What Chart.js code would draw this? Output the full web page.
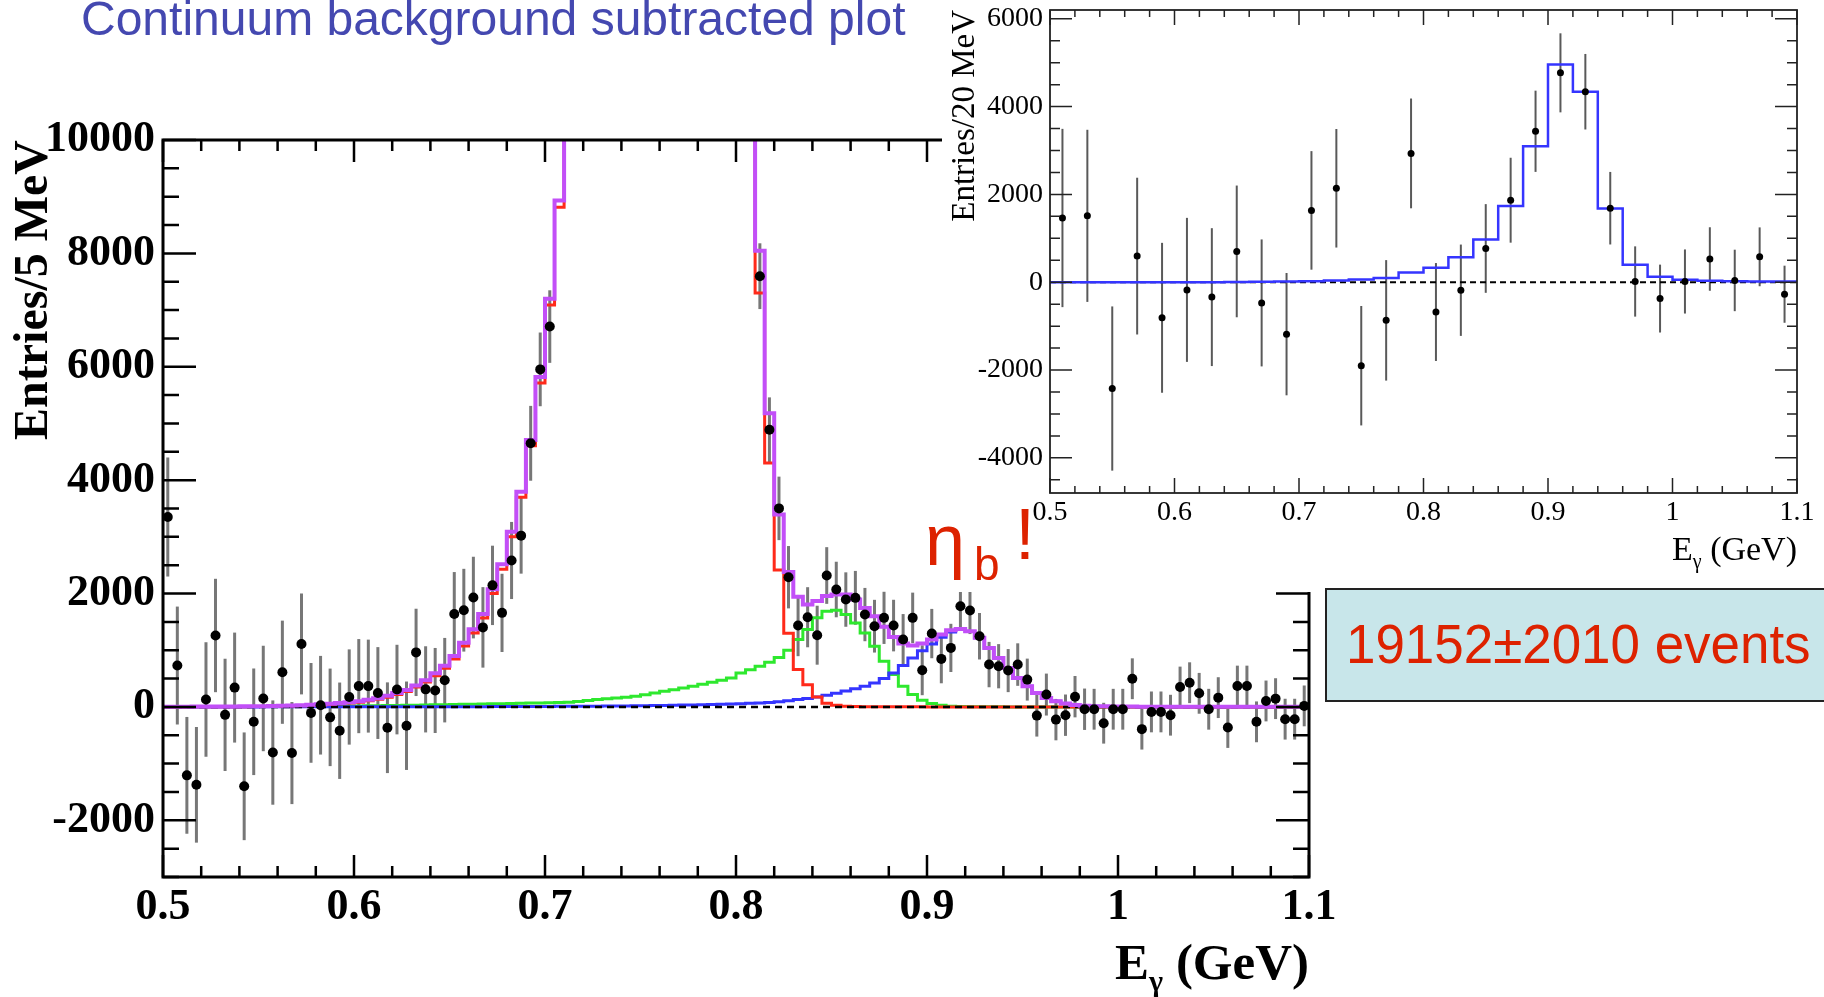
<!DOCTYPE html>
<html>
<head>
<meta charset="utf-8">
<script src="https://cdn.jsdelivr.net/npm/chart.js"></script>
<style>
  html, body { margin: 0; padding: 0; background: #fff; }
  body { width: 1824px; height: 997px; position: relative; overflow: hidden; }
  #mainWrap { position: absolute; left: 0; top: 0; width: 1360px; height: 997px; z-index: 1; }
  #insetWrap { position: absolute; left: 942px; top: 0; width: 882px; height: 592px; background: #fff; z-index: 2; }
  .txt { position: absolute; white-space: nowrap; line-height: 1; z-index: 3; }
  .serif { font-family: 'Liberation Serif', 'Times New Roman', serif; color: #000; }
  .red { font-family: 'Liberation Sans', Arial, sans-serif; color: #dd2200; }
  #evbox { position: absolute; left: 1325px; top: 588px; width: 560px; height: 110px; background: #c8e6ea; border: 2px solid #222; z-index: 3; }
</style>
</head>
<body>
<div id="mainWrap"><canvas id="mainChart" width="1360" height="997"></canvas></div>
<div id="insetWrap"><canvas id="insetChart" width="882" height="592"></canvas></div>

<div class="txt" style="left:81px; top:-5px; font-family:'Liberation Sans', Arial, sans-serif; font-size:48px; color:#4448b0;">Continuum background subtracted plot</div>

<div class="txt serif" style="right:515px; top:937px; font-size:51px; font-weight:bold;">E<span style="font-size:30px; position:relative; top:12px;">γ</span> (GeV)</div>
<div class="txt serif" style="right:27px; top:532px; font-size:34px;">E<span style="font-size:20px; position:relative; top:8px;">γ</span> (GeV)</div>

<div class="txt red" style="left:925px; top:504px; font-size:72px;">η</div>
<div class="txt red" style="left:974px; top:541px; font-size:46px;">b</div>
<div class="txt red" style="left:1015px; top:498px; font-size:72px;">!</div>

<div id="evbox"><div class="txt red" style="left:19px; top:26px; font-size:56px; transform:scaleX(0.945); transform-origin:0 0;">19152±2010 events</div></div>

<script>
// main plot: 5 MeV bins from 0.5 GeV
const MAIN_X0 = 0.5;
const MAIN_BIN = 0.005;
// fit histogram above the frame (peak region, not readable)
const OFF = 12000;

const MAIN_DATA = [
    3350, 730, -1207, -1374, 131, 1260, -140, 341, -1400, -262,
    149, -805, 612, -814, 1111, -105, 30, -184, -420, 175,
    367, 367, 245, -367, 306, -332, 962, 310, 290, 472,
    1639, 1706, 1929, 1403, 2144, 1659, 2583, 3021, 4650, 5954,
    6709, null, null, null, null, null, null, null, null, null,
    null, null, null, null, null, null, null, null, null, null,
    null, null, 7598, 4890, 3502, 2288, 1435, 1582, 1265, 2318,
    2071, 1894, 1924, 1629, 1424, 1571, 1435, 1188, 1571, 647,
    1294, 847, 1041, 1776, 1700, 1247, 747, 718, 641, 747,
    482, -153, 218, -224, -146, 181, -41, -41, -287, -41,
    -41, 497, -392, -88, -88, -146, 351, 427, 240, -41,
    164, -363, 368, 368, -263, 105, 146, -216, -216, 18
];

const MAIN_ERR = [
    1050, 1040, 1030, 1020, 1010, 1000, 990, 970, 950, 940,
    930, 920, 910, 900, 890, 880, 870, 860, 850, 840,
    830, 820, 810, 800, 790, 780, 770, 760, 750, 745,
    740, 730, 720, 710, 700, 690, 680, 670, 660, 650,
    640, null, null, null, null, null, null, null, null, null,
    null, null, null, null, null, null, null, null, null, null,
    null, null, 580, 570, 560, 550, 540, 530, 520, 500,
    490, 480, 475, 470, 465, 460, 455, 450, 445, 440,
    435, 430, 425, 420, 415, 410, 400, 390, 380, 375,
    370, 370, 370, 365, 365, 365, 365, 360, 360, 360,
    360, 360, 360, 360, 360, 360, 360, 360, 360, 360,
    360, 360, 360, 360, 360, 360, 360, 360, 360, 360
];

const MAIN_TOTAL = [
    5, 5, 5, 6, 6, 7, 8, 9, 10, 12,
    14, 17, 20, 25, 30, 37, 45, 55, 67, 82,
    100, 125, 155, 195, 245, 300, 380, 472, 593, 728,
    897, 1133, 1369, 1639, 2077, 2515, 3088, 3796, 4707, 5819,
    7202, 8935, OFF, OFF, OFF, OFF, OFF, OFF, OFF, OFF,
    OFF, OFF, OFF, OFF, OFF, OFF, OFF, OFF, OFF, OFF,
    OFF, OFF, 8045, 5179, 3392, 2380, 1942, 1807, 1869, 1956,
    1982, 1982, 1894, 1747, 1600, 1412, 1235, 1118, 1082, 1118,
    1188, 1276, 1353, 1376, 1335, 1218, 1041, 865, 688, 512,
    365, 247, 159, 100, 60, 35, 22, 14, 10, 8,
    6, 6, 5, 5, 5, 5, 4, 4, 4, 4,
    4, 3, 3, 3, 3, 3, 3, 3, 3, 3
];

const MAIN_PEAK = [
    0, 0, 0, 1, 1, 2, 3, 4, 5, 7,
    9, 11, 14, 18, 22, 28, 34, 43, 54, 68,
    84, 107, 135, 172, 220, 272, 350, 438, 550, 680,
    845, 1075, 1305, 1570, 2000, 2430, 3000, 3700, 4605, 5715,
    7090, 8815, OFF, OFF, OFF, OFF, OFF, OFF, OFF, OFF,
    OFF, OFF, OFF, OFF, OFF, OFF, OFF, OFF, OFF, OFF,
    OFF, OFF, 7303, 4302, 2414, 1301, 661, 391, 175, 65,
    29, 12, 6, 4, 3, 2, 2, 1, 1, 1,
    0, 0, 0, 0, 0, 0, 0, 0, 0, 0,
    0, 0, 0, 0, 0, 0, 0, 0, 0, 0,
    0, 0, 0, 0, 0, 0, 0, 0, 0, 0,
    0, 0, 0, 0, 0, 0, 0, 0, 0, 0
];

const MAIN_CHIB = [
    6, 6, 6, 6, 6, 6, 7, 7, 7, 8,
    9, 10, 10, 11, 12, 13, 14, 15, 16, 17,
    18, 20, 22, 24, 26, 28, 31, 34, 37, 40,
    43, 46, 49, 52, 55, 58, 61, 64, 67, 70,
    74, 78, 82, 96, 112, 129, 142, 157, 172, 188,
    215, 245, 276, 305, 334, 364, 398, 434, 472, 511,
    599, 655, 716, 790, 870, 1000, 1188, 1365, 1571, 1688,
    1706, 1629, 1482, 1306, 1071, 806, 571, 365, 218, 118,
    59, 29, 14, 6, 3, 2, 1, 1, 0, 0,
    0, 0, 0, 0, 0, 0, 0, 0, 0, 0,
    0, 0, 0, 0, 0, 0, 0, 0, 0, 0,
    0, 0, 0, 0, 0, 0, 0, 0, 0, 0
];

const MAIN_ETAB = [
    0, 0, 0, 0, 0, 0, 0, 0, 0, 0,
    1, 1, 1, 1, 1, 1, 1, 1, 1, 1,
    2, 2, 2, 2, 3, 3, 3, 3, 4, 4,
    4, 5, 5, 5, 6, 6, 7, 7, 8, 8,
    9, 10, 11, 12, 13, 14, 15, 16, 18, 20,
    22, 24, 27, 30, 33, 36, 40, 44, 48, 53,
    58, 64, 70, 78, 90, 110, 130, 150, 175, 205,
    240, 280, 320, 365, 420, 500, 600, 730, 865, 990,
    1110, 1230, 1320, 1370, 1330, 1218, 1041, 865, 688, 512,
    365, 247, 159, 100, 60, 35, 20, 12, 8, 5,
    4, 4, 3, 3, 3, 2, 2, 2, 2, 2,
    1, 1, 1, 1, 1, 1, 1, 1, 1, 1
];

const X_TICKS = [0.5, 0.6, 0.7, 0.8, 0.9, 1, 1.1];
const Y_MAIN_TICKS = [-2000, 0, 2000, 4000, 6000, 8000, 10000];

// inset: 20 MeV bins from 0.5 GeV
const INSET_X0 = 0.5;
const INSET_BIN = 0.02;
const INSET_DATA = [1463, 1512, -2421, 595, -810, -174, -339, 702, -471, -1182,
    1636, 2140, -1901, -868, 2934, -678, -182, 769, 1868, 3438,
    4769, 4339, 1686, 17, -372, 17, 529, 41, 579, -273];
const INSET_ERR = [2030, 1960, 1870, 1785, 1707, 1640, 1570, 1500, 1446, 1393,
    1350, 1350, 1360, 1372, 1250, 1115, 1040, 1010, 967, 925,
    900, 860, 826, 800, 773, 730, 723, 700, 670, 650];
const INSET_FIT = [0, 0, 0, 0, 0, 0, 0, 8, 10, 15,
    25, 40, 62, 99, 223, 331, 570, 975, 1736, 3099,
    4959, 4339, 1678, 397, 124, 58, 33, 25, 17, 17];
const Y_INSET_TICKS = [-4000, -2000, 0, 2000, 4000, 6000];

function edges(values, x0, w) {
    const pts = values.map((v, i) => ({ x: x0 + i * w, y: v }));
    pts.push({ x: x0 + values.length * w, y: values[values.length - 1] });
    return pts;
}

function centres(values, x0, w) {
    return values.map((v, i) => ({ x: x0 + (i + 0.5) * w, y: v }));
}

function hist(values, x0, w, color, width, order) {
    return {
        type: 'line',
        data: edges(values, x0, w),
        stepped: true,
        borderColor: color,
        borderWidth: width,
        pointRadius: 0,
        fill: false,
        order: order
    };
}

function zeroLine(width, dash, order) {
    return {
        type: 'line',
        data: [{ x: 0.5, y: 0 }, { x: 1.1, y: 0 }],
        borderColor: '#000',
        borderWidth: width,
        borderDash: dash,
        pointRadius: 0,
        order: order
    };
}

const errorBars = {
    id: 'errorBars',
    beforeDatasetsDraw(chart) {
        const { ctx, chartArea: a, scales: { x, y } } = chart;
        ctx.save();
        ctx.beginPath();
        ctx.rect(a.left, a.top, a.width, a.height);
        ctx.clip();
        chart.data.datasets.forEach(ds => {
            if (!ds.errors) return;
            ctx.strokeStyle = ds.errorColor;
            ctx.lineWidth = ds.errorWidth;
            ds.data.forEach((p, i) => {
                if (p.y == null) return;
                const px = x.getPixelForValue(p.x);
                ctx.beginPath();
                ctx.moveTo(px, y.getPixelForValue(p.y - ds.errors[i]));
                ctx.lineTo(px, y.getPixelForValue(p.y + ds.errors[i]));
                ctx.stroke();
            });
        });
        ctx.restore();
    }
};

// ROOT style frame with inward ticks on all four sides
const rootFrame = {
    id: 'rootFrame',
    afterDatasetsDraw(chart, args, o) {
        const { ctx, chartArea: a, scales: { x, y } } = chart;
        ctx.save();
        ctx.strokeStyle = o.color;
        ctx.lineWidth = o.tickWidth;
        ctx.beginPath();
        let k0 = Math.ceil(x.min / o.xMinor - 1e-6);
        for (let k = k0; k * o.xMinor <= x.max + 1e-9; k++) {
            const v = k * o.xMinor;
            const r = v / o.xMajor;
            const len = Math.abs(r - Math.round(r)) < 1e-6 ? o.xMajorLen : o.xMinorLen;
            const px = x.getPixelForValue(v);
            ctx.moveTo(px, a.bottom);
            ctx.lineTo(px, a.bottom - len);
            ctx.moveTo(px, a.top);
            ctx.lineTo(px, a.top + len);
        }
        k0 = Math.ceil(y.min / o.yMinor - 1e-6);
        for (let k = k0; k * o.yMinor <= y.max + 1e-9; k++) {
            const v = k * o.yMinor;
            const r = v / o.yMajor;
            const len = Math.abs(r - Math.round(r)) < 1e-6 ? o.yMajorLen : o.yMinorLen;
            const py = y.getPixelForValue(v);
            ctx.moveTo(a.left, py);
            ctx.lineTo(a.left + len, py);
            ctx.moveTo(a.right, py);
            ctx.lineTo(a.right - len, py);
        }
        ctx.stroke();
        ctx.lineWidth = o.frameWidth;
        ctx.strokeRect(a.left, a.top, a.width, a.height);
        ctx.restore();
    }
};

function axes(cfg) {
    const serif = 'Liberation Serif';
    return {
        x: {
            type: 'linear',
            min: 0.5,
            max: 1.1,
            grid: { display: false, drawTicks: false },
            border: { display: false },
            afterBuildTicks: s => { s.ticks = X_TICKS.map(v => ({ value: v })); },
            afterFit: s => { s.height = cfg.xHeight; s.paddingLeft = 0; s.paddingRight = 0; },
            ticks: {
                autoSkip: false,
                maxRotation: 0,
                padding: cfg.xPad,
                color: '#000',
                font: { family: serif, size: cfg.tickSize, weight: cfg.weight },
                callback: v => String(v)
            }
        },
        y: {
            type: 'linear',
            min: cfg.yMin,
            max: cfg.yMax,
            grid: { display: false, drawTicks: false },
            border: { display: false },
            afterBuildTicks: s => { s.ticks = cfg.yTicks.map(v => ({ value: v })); },
            afterFit: s => { s.width = cfg.yWidth; s.paddingTop = 0; s.paddingBottom = 0; },
            ticks: {
                autoSkip: false,
                padding: cfg.yPad,
                color: '#000',
                font: { family: serif, size: cfg.tickSize, weight: cfg.weight },
                callback: v => String(v)
            },
            title: {
                display: true,
                text: cfg.yTitle,
                align: 'end',
                color: '#000',
                font: { family: serif, size: cfg.titleSize, weight: cfg.weight },
                padding: { top: cfg.titlePad, bottom: 0 }
            }
        }
    };
}

const baseOptions = {
    responsive: false,
    animation: false,
    events: [],
    plugins: { legend: { display: false }, tooltip: { enabled: false } }
};

new Chart(document.getElementById('mainChart'), {
    type: 'scatter',
    data: {
        datasets: [
            {
                data: centres(MAIN_DATA, MAIN_X0, MAIN_BIN),
                errors: MAIN_ERR,
                errorColor: 'rgba(85,85,85,0.8)',
                errorWidth: 3,
                pointRadius: 5,
                pointBackgroundColor: '#000',
                pointBorderWidth: 0,
                order: 1
            },
            hist(MAIN_TOTAL, MAIN_X0, MAIN_BIN, '#c24ff8', 4, 2),
            zeroLine(2.5, [7, 5], 3),
            hist(MAIN_PEAK, MAIN_X0, MAIN_BIN, '#ff2a1a', 3, 4),
            hist(MAIN_ETAB, MAIN_X0, MAIN_BIN, '#3535ff', 3, 5),
            hist(MAIN_CHIB, MAIN_X0, MAIN_BIN, '#2ee82e', 3, 6)
        ]
    },
    options: Object.assign({}, baseOptions, {
        layout: { padding: { left: 0, top: 140, right: 51, bottom: 0 } },
        scales: axes({
            xHeight: 120, yWidth: 163, xPad: 4, yPad: 8, tickSize: 44, weight: 'bold',
            yMin: -3000, yMax: 10000, yTicks: Y_MAIN_TICKS,
            yTitle: 'Entries/5 MeV', titleSize: 48, titlePad: 6
        }),
        plugins: Object.assign({}, baseOptions.plugins, {
            rootFrame: {
                color: '#000', frameWidth: 3, tickWidth: 2.5,
                xMinor: 0.02, xMajor: 0.1, xMajorLen: 22, xMinorLen: 11,
                yMinor: 500, yMajor: 2000, yMajorLen: 33, yMinorLen: 16
            }
        })
    }),
    plugins: [errorBars, rootFrame]
});

new Chart(document.getElementById('insetChart'), {
    type: 'scatter',
    data: {
        datasets: [
            {
                data: centres(INSET_DATA, INSET_X0, INSET_BIN),
                errors: INSET_ERR,
                errorColor: 'rgba(60,60,60,0.85)',
                errorWidth: 2,
                pointRadius: 3.5,
                pointBackgroundColor: '#000',
                pointBorderWidth: 0,
                order: 1
            },
            hist(INSET_FIT, INSET_X0, INSET_BIN, '#3535ff', 2.5, 2),
            zeroLine(2, [6, 4], 3)
        ]
    },
    options: Object.assign({}, baseOptions, {
        layout: { padding: { left: 0, top: 10, right: 27, bottom: 0 } },
        scales: axes({
            xHeight: 99, yWidth: 108, xPad: 3, yPad: 7, tickSize: 28, weight: 'normal',
            yMin: -4800, yMax: 6200, yTicks: Y_INSET_TICKS,
            yTitle: 'Entries/20 MeV', titleSize: 33, titlePad: 4
        }),
        plugins: Object.assign({}, baseOptions.plugins, {
            rootFrame: {
                color: '#222', frameWidth: 1.8, tickWidth: 1.5,
                xMinor: 0.02, xMajor: 0.1, xMajorLen: 15, xMinorLen: 7,
                yMinor: 500, yMajor: 2000, yMajorLen: 22, yMinorLen: 10
            }
        })
    }),
    plugins: [errorBars, rootFrame]
});
</script>
</body>
</html>
